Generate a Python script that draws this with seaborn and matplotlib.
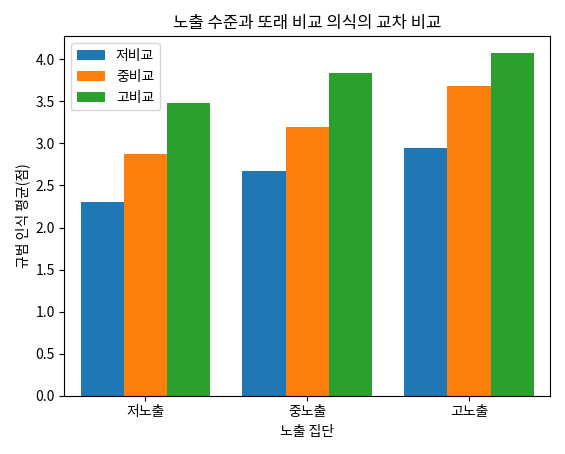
import pandas as pd
import matplotlib.pyplot as plt
import seaborn as sns

exposure = ['저노출', '중노출', '고노출']
comparison = ['저비교', '중비교', '고비교']
low_cmp = [2.30, 2.67, 2.95]
mid_cmp = [2.88, 3.19, 3.68]
high_cmp = [3.48, 3.84, 4.07]

rows = []
for name, vals in zip(comparison, [low_cmp, mid_cmp, high_cmp]):
    for g, v in zip(exposure, vals):
        rows.append({'노출 집단': g, '비교': name, '평균': v})
df = pd.DataFrame(rows)

plt.rcParams['font.family'] = ['Noto Sans CJK KR', 'DejaVu Sans']
plt.rcParams['axes.unicode_minus'] = False

fig, ax = plt.subplots(figsize=(5.65, 4.54), dpi=100)
sns.barplot(data=df, x='노출 집단', y='평균', hue='비교', order=exposure, hue_order=comparison,
            palette=['#1f77b4', '#ff7f0e', '#2ca02c'], width=0.8, saturation=1, ax=ax)
ax.set_title('노출 수준과 또래 비교 의식의 교차 비교')
ax.set_xlabel('노출 집단')
ax.set_ylabel('규범 인식 평균(점)')
ax.legend(loc='upper left')
plt.tight_layout()
plt.savefig('out.png')
